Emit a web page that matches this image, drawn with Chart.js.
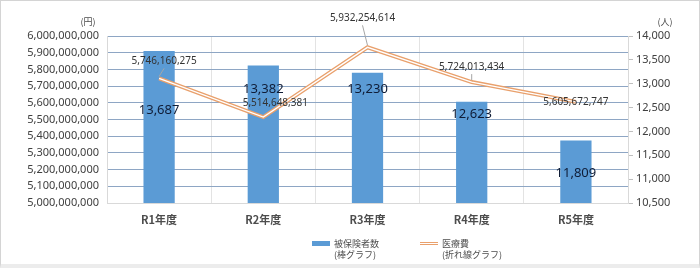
<!DOCTYPE html>
<html lang="ja">
<head>
  <meta charset="UTF-8">
  <title>被保険者数と医療費の推移</title>
  <script src="https://cdn.jsdelivr.net/npm/chart.js"></script>
  <style>
    body { margin: 0; background: #fff; }
    #wrap { position: relative; width: 700px; height: 268px; }
    #marco { position: absolute; left: 0; top: 0; width: 700px; height: 268px; box-sizing: border-box;
             border: 1px solid #d4d4d4; border-bottom: 4px solid #ececec; pointer-events: none; }
    .leyenda { position: absolute; top: 238px; font-family: 'Noto Sans CJK JP', sans-serif; font-size: 9px;
               color: #4d4d4d; line-height: 11px; }
    .muestra { position: absolute; top: 4px; width: 18px; }
    .leyenda span.txt { position: absolute; left: 22px; white-space: nowrap; }
  </style>
</head>
<body>
<div id="wrap">
  <canvas id="grafico" width="700" height="268"></canvas>
  <div class="leyenda" style="left:312px">
    <div class="muestra" style="height:5px;background:#5b9bd5;top:3px"></div>
    <span class="txt">被保険者数<br>(棒グラフ)</span>
  </div>
  <div class="leyenda" style="left:420px">
    <div class="muestra" style="height:1px;border-top:1.5px solid #e9a06c;border-bottom:1.5px solid #e9a06c;top:4px"></div>
    <span class="txt">医療費<br>(折れ線グラフ)</span>
  </div>
  <div id="marco"></div>
</div>

<script>
  // Datos
  const categorias = ['R1年度', 'R2年度', 'R3年度', 'R4年度', 'R5年度'];
  const hihokensha = [13687, 13382, 13230, 12623, 11809];           // 人 (棒グラフ)
  const iryohi = [5746160275, 5514648381, 5932254614, 5724013434, 5605672747]; // 円 (折れ線)
  const ticksYen = [5000000000, 6000000000, 100000000];   // min, max, paso
  const ticksNin = [10500, 14000, 500];

  // posiciones de las etiquetas (desplazamientos en px)
  const desplBarra = [59, 24, 17, 13, 33];
  const desplLinea = [[5, -17, true], [12, -14, false], [-5, -29, true], [0, -15, true], [0, 0, false]];

  const fmt = v => v.toLocaleString('en-US');
  Chart.defaults.font.family = "'Noto Sans', 'Noto Sans CJK JP', sans-serif";
  Chart.defaults.color = '#404040';

  const etiquetas = {
    id: 'etiquetas',
    afterDatasetsDraw(chart) {
      const ctx = chart.ctx;
      const barras = chart.getDatasetMeta(2).data;
      const puntos = chart.getDatasetMeta(1).data;
      ctx.save();
      ctx.textAlign = 'center';
      ctx.textBaseline = 'middle';
      // valores de barras
      ctx.font = "13px 'Noto Sans'";
      ctx.fillStyle = '#0f1c36';
      barras.forEach((b, i) => {
        ctx.fillText(fmt(hihokensha[i]), b.x, b.y + desplBarra[i]);
      });
      // valores de la linea
      ctx.font = "10px 'Noto Sans'";
      puntos.forEach((p, i) => {
        const [dx, dy, guia] = desplLinea[i];
        if (guia) {
          ctx.strokeStyle = '#a6a6a6';
          ctx.lineWidth = 1;
          ctx.beginPath();
          ctx.moveTo(p.x + dx, p.y + dy + 7);
          ctx.lineTo(p.x, p.y - 2);
          ctx.stroke();
        }
        ctx.fillStyle = '#333333';
        ctx.fillText(fmt(iryohi[i]), p.x + dx, p.y + dy);
      });
      // unidades
      const a = chart.chartArea;
      ctx.font = "9px 'Noto Sans CJK JP'";
      ctx.fillStyle = '#4d4d4d';
      ctx.fillText('(円)', a.left - 19, a.top - 14);
      ctx.fillText('(人)', a.right + 37, a.top - 14);
      ctx.restore();
    }
  };

  new Chart(document.getElementById('grafico'), {
    data: {
      labels: categorias,
      datasets: [
        { type: 'line', label: '医療費', data: iryohi, yAxisID: 'y', order: 0,
          borderColor: '#ffffff', borderWidth: 1.4, pointRadius: 0, tension: 0 },
        { type: 'line', label: '医療費', data: iryohi, yAxisID: 'y', order: 1,
          borderColor: '#e9a06c', borderWidth: 4, pointRadius: 0, tension: 0 },
        { type: 'bar', label: '被保険者数', data: hihokensha, yAxisID: 'y1', order: 2,
          backgroundColor: '#5b9bd5', categoryPercentage: 1, barPercentage: 0.3 }
      ]
    },
    options: {
      responsive: false,
      animation: false,
      layout: { padding: { top: 36, bottom: 0, left: 0, right: 0 } },
      plugins: { legend: { display: false }, tooltip: { enabled: false } },
      scales: {
        x: {
          grid: { offset: true, color: '#e3e3e3', drawTicks: false },
          border: { color: '#d9d9d9' },
          ticks: { font: { size: 11, weight: 'bold', family: "'Noto Sans CJK JP'" }, padding: 10, color: '#4d4d4d' },
          afterFit: s => { s.height = 65; }
        },
        y: {
          position: 'left',
          min: ticksYen[0], max: ticksYen[1],
          ticks: { stepSize: ticksYen[2], callback: fmt, font: { size: 11 }, padding: 8, color: '#404040' },
          grid: { color: '#8ea6c4', drawTicks: false },
          border: { color: '#d9d9d9' },
          afterFit: s => { s.width = 107; }
        },
        y1: {
          position: 'right',
          min: ticksNin[0], max: ticksNin[1],
          ticks: { stepSize: ticksNin[2], callback: fmt, font: { size: 11 }, padding: 3, color: '#404040' },
          grid: { drawOnChartArea: false, tickLength: 5, color: '#bfbfbf' },
          border: { color: '#d9d9d9' },
          afterFit: s => { s.width = 72; }
        }
      }
    },
    plugins: [etiquetas]
  });
</script>
</body>
</html>
